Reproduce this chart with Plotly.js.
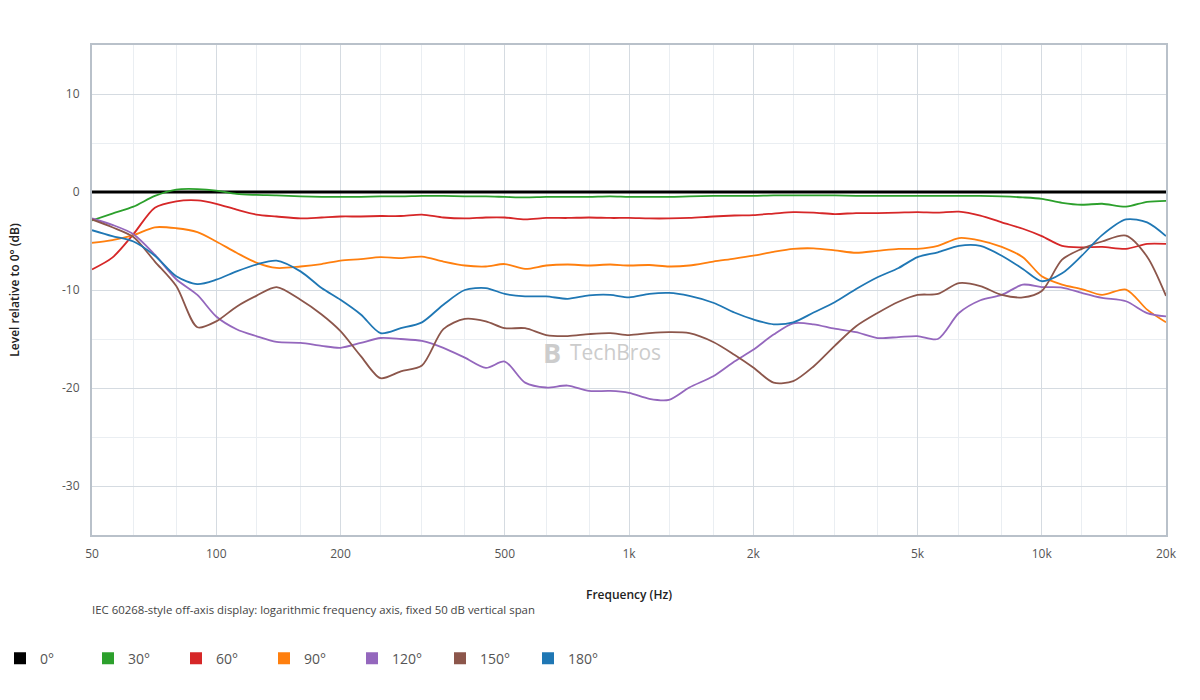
<!DOCTYPE html>
<html>
<head>
<meta charset="utf-8">
<script src="https://cdn.plot.ly/plotly-3.0.1.min.js"></script>
<style>html,body{margin:0;padding:0;background:#fff;} #chart{width:1200px;height:700px;}</style>
</head>
<body>
<div id="chart"></div>
<script>
// Frequencies (Hz), 1/6-octave points
var freqs = [50,56,63,71,80,90,100,112,125,140,160,180,200,224,250,280,315,355,400,450,500,560,630,710,800,900,1000,1120,1250,1400,1600,1800,2000,2240,2500,2800,3150,3550,4000,4500,5000,5600,6300,7100,8000,9000,10000,11200,12500,14000,16000,18000,20000];

var deg0   = [0,0,0,0,0,0,0,0,0,0,0,0,0,0,0,0,0,0,0,0,0,0,0,0,0,0,0,0,0,0,0,0,0,0,0,0,0,0,0,0,0,0,0,0,0,0,0,0,0,0,0,0,0];
var deg30  = [-2.9,-2.2,-1.5,-0.4,0.25,0.3,0.15,-0.2,-0.3,-0.35,-0.45,-0.5,-0.5,-0.5,-0.45,-0.45,-0.4,-0.4,-0.45,-0.45,-0.5,-0.55,-0.5,-0.5,-0.5,-0.45,-0.5,-0.5,-0.5,-0.45,-0.4,-0.4,-0.4,-0.35,-0.35,-0.35,-0.35,-0.4,-0.4,-0.4,-0.4,-0.4,-0.4,-0.4,-0.45,-0.55,-0.7,-1.1,-1.3,-1.2,-1.5,-1.0,-0.9];
var deg60  = [-7.9,-6.7,-4.3,-1.6,-0.95,-0.85,-1.2,-1.8,-2.3,-2.5,-2.7,-2.6,-2.5,-2.5,-2.45,-2.45,-2.3,-2.6,-2.7,-2.6,-2.6,-2.8,-2.65,-2.65,-2.6,-2.65,-2.65,-2.7,-2.7,-2.65,-2.5,-2.4,-2.35,-2.2,-2.05,-2.1,-2.25,-2.15,-2.15,-2.1,-2.05,-2.1,-2.0,-2.4,-3.1,-3.75,-4.5,-5.5,-5.65,-5.6,-5.8,-5.3,-5.3];
var deg90  = [-5.2,-4.9,-4.4,-3.6,-3.7,-4.1,-5.05,-6.2,-7.2,-7.75,-7.6,-7.35,-7.0,-6.85,-6.65,-6.75,-6.6,-7.1,-7.5,-7.6,-7.35,-7.85,-7.5,-7.4,-7.5,-7.4,-7.5,-7.45,-7.6,-7.5,-7.1,-6.8,-6.5,-6.1,-5.8,-5.75,-5.95,-6.2,-6.0,-5.8,-5.8,-5.5,-4.7,-4.95,-5.6,-6.65,-8.6,-9.45,-9.9,-10.5,-9.95,-12.0,-13.3];
var deg120 = [-2.7,-3.35,-4.3,-6.4,-8.9,-10.5,-12.7,-14.0,-14.7,-15.3,-15.4,-15.7,-15.9,-15.4,-14.9,-15.0,-15.2,-15.9,-16.9,-17.95,-17.3,-19.45,-19.95,-19.75,-20.3,-20.3,-20.5,-21.1,-21.2,-19.95,-18.8,-17.3,-16.1,-14.55,-13.4,-13.5,-13.95,-14.3,-14.9,-14.8,-14.7,-15.0,-12.35,-11.05,-10.5,-9.45,-9.7,-9.75,-10.3,-10.8,-11.15,-12.35,-12.7];
var deg150 = [-2.8,-3.6,-4.6,-7.1,-9.6,-13.8,-13.2,-11.7,-10.6,-9.7,-11.0,-12.5,-14.2,-16.75,-19.0,-18.3,-17.7,-14.0,-12.95,-13.2,-13.9,-13.9,-14.6,-14.7,-14.5,-14.4,-14.6,-14.4,-14.3,-14.4,-15.3,-16.6,-17.9,-19.45,-19.3,-17.8,-15.7,-13.7,-12.35,-11.2,-10.5,-10.4,-9.3,-9.6,-10.5,-10.75,-10.1,-6.9,-5.8,-5.05,-4.45,-6.6,-10.6];
var deg180 = [-3.9,-4.5,-5.05,-6.5,-8.6,-9.4,-8.95,-8.1,-7.4,-7.0,-8.1,-9.8,-11.0,-12.5,-14.4,-13.9,-13.3,-11.5,-10.0,-9.8,-10.4,-10.65,-10.65,-10.9,-10.55,-10.5,-10.75,-10.4,-10.3,-10.6,-11.3,-12.3,-13.0,-13.5,-13.3,-12.3,-11.25,-9.9,-8.7,-7.75,-6.65,-6.15,-5.5,-5.5,-6.5,-7.85,-9.1,-8.3,-6.5,-4.4,-2.8,-3.1,-4.5];

var seriesNames  = ['0°','30°','60°','90°','120°','150°','180°'];
var seriesValues = [deg0, deg30, deg60, deg90, deg120, deg150, deg180];
var seriesColors = ['#000000','#2ca02c','#d62728','#ff7f0e','#9467bd','#8c564b','#1f77b4'];

var xTickVals = [50,100,200,500,1000,2000,5000,10000,20000];
var xTickText = ['50','100','200','500','1k','2k','5k','10k','20k'];
var xMinorVals = [63,80,125,160,250,315,400,630,800,1250,1600,2500,3150,4000,6300,8000,12500,16000];
var yTickVals = [-30,-20,-10,0,10];
var yTickText = ['-30','-20','-10','0','10'];

var traces = [];
for (var i = 0; i < seriesNames.length; i++) {
  traces.push({
    x: freqs, y: seriesValues[i], type: 'scatter', mode: 'lines',
    name: seriesNames[i], legendgroup: seriesNames[i], showlegend: false,
    line: {color: seriesColors[i], width: i === 0 ? 3 : 1.8, shape: 'spline', smoothing: 0.8},
    hoverinfo: 'x+y+name'
  });
}
for (var j = 0; j < seriesNames.length; j++) {
  traces.push({
    x: [null], y: [null], type: 'scatter', mode: 'markers',
    name: seriesNames[j], legendgroup: seriesNames[j], showlegend: true,
    marker: {color: seriesColors[j], symbol: 'square', size: 12}
  });
}

var font = '"Open Sans", "Noto Sans", sans-serif';
var layout = {
  width: 1200, height: 700,
  margin: {l: 92, r: 34, t: 45, b: 165},
  paper_bgcolor: '#ffffff', plot_bgcolor: '#ffffff',
  font: {family: font, size: 12, color: '#555'},
  showlegend: true,
  xaxis: {
    type: 'log', range: [Math.log10(50), Math.log10(20000)],
    tickmode: 'array', tickvals: xTickVals, ticktext: xTickText,
    tickfont: {size: 12, color: '#555'},
    ticks: '', ticklabelstandoff: 7,
    showgrid: true, gridcolor: '#d5dbe1', gridwidth: 1,
    minor: {tickmode: 'array', tickvals: xMinorVals, showgrid: true, gridcolor: '#eaeef2', gridwidth: 1, ticks: ''},
    showline: true, linecolor: '#b9c1ca', linewidth: 2, mirror: true,
    zeroline: false,
    title: {text: 'Frequency (Hz)', font: {size: 12, color: '#222', weight: 600}, standoff: 29}
  },
  yaxis: {
    range: [-35, 15],
    tickmode: 'array', tickvals: yTickVals, ticktext: yTickText,
    tickfont: {size: 12, color: '#555'},
    ticks: '', ticklabelstandoff: 8,
    showgrid: true, gridcolor: '#d5dbe1', gridwidth: 1,
    minor: {tickmode: 'linear', tick0: -35, dtick: 5, showgrid: true, gridcolor: '#eaeef2', gridwidth: 1, ticks: ''},
    showline: true, linecolor: '#b9c1ca', linewidth: 2, mirror: true,
    zeroline: false,
    title: {text: 'Level relative to 0° (dB)', font: {size: 12, color: '#222', weight: 600}, standoff: 40}
  },
  legend: {
    orientation: 'h', xref: 'container', yref: 'container',
    x: 0, xanchor: 'left', y: 0.059, yanchor: 'middle',
    font: {size: 14, color: '#555'},
    entrywidth: 43, entrywidthmode: 'pixels',
    itemclick: false, itemdoubleclick: false,
    bgcolor: 'rgba(0,0,0,0)'
  },
  annotations: [
    {text: 'IEC 60268-style off-axis display: logarithmic frequency axis, fixed 50 dB vertical span',
     xref: 'paper', yref: 'paper', x: -0.002, y: -0.152, xanchor: 'left', yanchor: 'middle',
     showarrow: false, font: {size: 11.4, color: '#444'}},
    {text: '<b>B</b>', xref: 'paper', yref: 'paper', x: 0.4285, y: 0.373, xanchor: 'center', yanchor: 'middle',
     showarrow: false, font: {size: 27, color: '#cccccc'}},
    {text: 'TechBros', xref: 'paper', yref: 'paper', x: 0.443, y: 0.373, xanchor: 'left', yanchor: 'middle',
     showarrow: false, font: {size: 21, color: '#cccccc'}}
  ]
};

Plotly.newPlot('chart', traces, layout, {displayModeBar: false, staticPlot: true});
</script>
</body>
</html>
